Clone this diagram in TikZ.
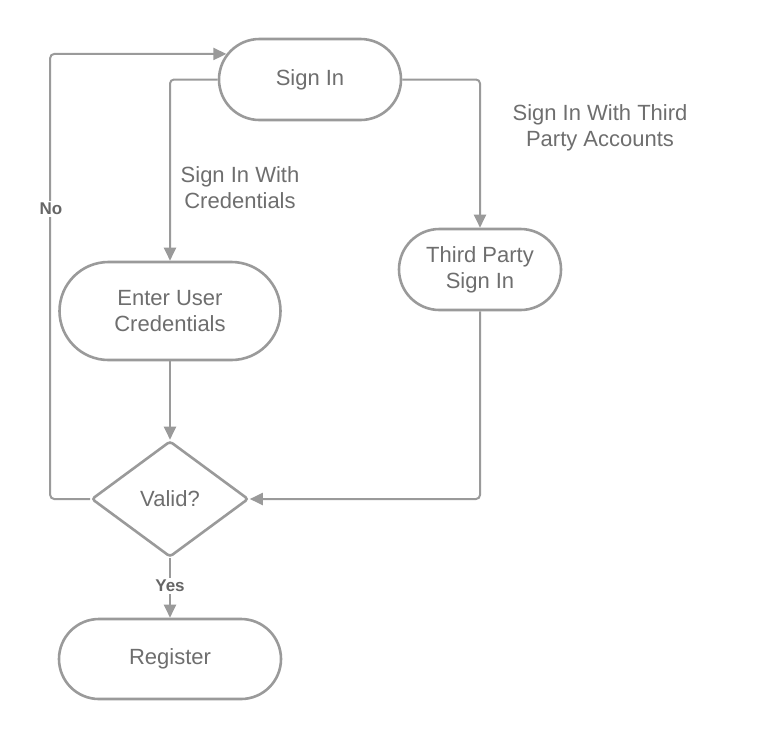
\documentclass[tikz,border=0pt]{standalone}
\usepackage{fontspec}
\setmainfont{Liberation Sans}
\usetikzlibrary{shapes.misc,shapes.geometric,arrows.meta}
\definecolor{linegray}{HTML}{9A9A9A}
\definecolor{textgray}{HTML}{6E6E6E}
\definecolor{labelgray}{HTML}{666666}
\tikzset{
  stadium/.style={rounded rectangle, draw=linegray, line width=2.6pt, fill=white,
    inner sep=0pt, text=textgray, align=center,
    font=\fontsize{22}{26}\selectfont},
  decision/.style={diamond, draw=linegray, line width=2.6pt, fill=white,
    inner sep=0pt, rounded corners=3pt, text=textgray,
    font=\fontsize{22}{26}\selectfont},
  conn/.style={draw=linegray, line width=2pt, rounded corners=4pt,
    -{Triangle[length=13pt,width=12pt]}},
  edgelabel/.style={text=textgray, align=center, font=\fontsize{22}{26}\selectfont},
  choice/.style={fill=white, text=labelgray, inner sep=2pt,
    font=\fontsize{17}{19}\bfseries\selectfont}
}
\begin{document}
\begin{tikzpicture}[x=1pt,y=-1pt]
\useasboundingbox (0,0) rectangle (760,740);
\node[stadium, minimum width=182pt, minimum height=81pt] (signin) at (310,79.5) {Sign In};
\node[stadium, minimum width=221pt, minimum height=98pt] (creds) at (170,311) {Enter User\\Credentials};
\node[stadium, minimum width=162pt, minimum height=81pt] (third) at (480,269.5) {Third Party\\Sign In};
\node[decision, minimum width=157pt, minimum height=116pt] (valid) at (170,499) {Valid?};
\node[stadium, minimum width=222pt, minimum height=80pt] (register) at (170,659) {Register};

\node[edgelabel] (lcred) at (240,188) {Sign In With\\Credentials};
\node[edgelabel] (lthird) at (600,128) {Sign In With Third\\Party Accounts};

\draw[conn] (signin.west) -| (creds.north);
\draw[conn] (signin.east) -| (third.north);
\draw[conn] (creds.south) -- (valid.north);
\draw[conn] (third.south) |- (valid.east);
\draw[conn] (valid.west) -- ++(-40,0) |- (signin.163);
\draw[conn] (valid.south) -- (register.north);

\node[choice] (no) at (51,209) {No};
\node[choice] (yes) at (170,586) {Yes};
\end{tikzpicture}
\end{document}
